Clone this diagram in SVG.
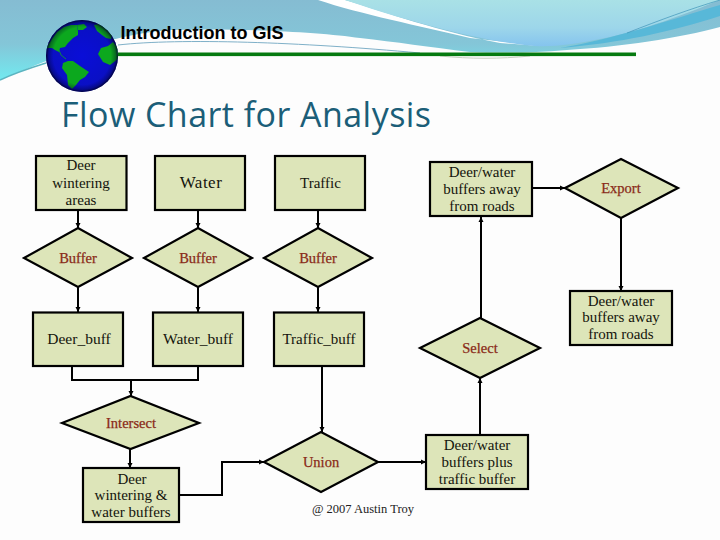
<svg xmlns="http://www.w3.org/2000/svg" width="720" height="540" viewBox="0 0 720 540">
<style>
.n{fill:#dde5b9;stroke:#000;stroke-width:2.2;stroke-linejoin:miter}
.c{fill:none;stroke:#000;stroke-width:2}
.a{marker-end:url(#ah)}
text{font-family:"Liberation Serif","Times New Roman",serif;text-anchor:middle}
.t{font-size:15px;fill:#14140c}
.o{font-size:14.500px;fill:#8a2a18;stroke:#8a2a18;stroke-width:.25}
</style>
<defs>
<marker id="ah" markerUnits="userSpaceOnUse" markerWidth="8" markerHeight="8" refX="6" refY="4" orient="auto"><path d="M1,1.500 L6,4 L1,6.500 Z" fill="#000"/></marker>
<linearGradient id="sky" x1="0" y1="0" x2="0" y2="1"><stop offset="0" stop-color="#85bcd2"/><stop offset=".55" stop-color="#84c6d8"/><stop offset="1" stop-color="#72eaf0"/></linearGradient>
<linearGradient id="lens" x1="0" y1="0" x2="0" y2="1"><stop offset="0" stop-color="#a9e1e6"/><stop offset=".6" stop-color="#9dd6ea"/><stop offset="1" stop-color="#85c4ee"/></linearGradient>
<radialGradient id="ocean" cx=".5" cy=".5" r=".5"><stop offset="0" stop-color="#0a0ed8"/><stop offset="1" stop-color="#0a10c0"/></radialGradient>
<radialGradient id="rim" cx=".5" cy=".5" r=".5"><stop offset=".8" stop-color="#000028" stop-opacity="0"/><stop offset=".93" stop-color="#000028" stop-opacity=".35"/><stop offset="1" stop-color="#000020" stop-opacity=".85"/></radialGradient>
<clipPath id="gc"><circle cx="82" cy="56" r="36"/></clipPath>
</defs>
<rect width="720" height="540" fill="#fdfdfd"/>
<g id="background">
<path d="M0,0 H720 V27 C680,38 620,47 567,50 C530,53 500,53 470,52 C430,47 395,42 360,38 C320,32 240,28 170,30 C120,34 70,50 0,80 Z" fill="url(#sky)"/>
<path d="M318,0 H345 C385,12 440,32 500,43 L540,46 L470,38 C420,26 360,14 318,0 Z" fill="#fff"/>
<path d="M345,0 H720 C690,12 640,32 600,39 C575,44 555,47 535,46 C500,43 440,32 345,0 Z" fill="url(#lens)"/>
<path d="M560,48 C610,40 670,20 720,5 V16 C670,32 620,43 560,48 Z" fill="#58b8d8"/>
<path d="M627,33 C660,20 690,9 720,0" fill="none" stroke="#3e93b8" stroke-width=".7"/>
<path d="M0,80 C15,73 30,68 46,63" fill="none" stroke="#5cb4c0" stroke-width="1.400"/>
<path d="M118,45 C180,38 300,42 420,53" fill="none" stroke="#7fb0c8" stroke-width="1"/>
<path d="M440,56 C470,59 500,59 530,56" fill="none" stroke="#c8d0c0" stroke-width="1"/>
</g>
<rect id="rule" x="118" y="52.500" width="518" height="3.600" fill="#067a10"/>
<g id="globe">
<circle cx="82" cy="56" r="36" fill="url(#ocean)"/>
<g clip-path="url(#gc)" fill="#0ca81e">
<path d="M46,48 L52,39 L57,32 L64,27 L71,25 L77,25 L78,31 L78,35 L73,38 L68,43 L65,47 L60,48 L59,52 L55,50 L52,48 Z"/>
<path d="M77,25 L84,24 L87,27 L83,30 L78,30 Z"/>
<path d="M63,63 L68,61 L73,61 L80,66 L89,72 L85,77 L80,80 L76,85 L72,89 L68,85 L67,75 L62,68 Z"/>
<path d="M98,54 L101,48 L108,46 L113,42 L118,48 L119,58 L114,62 L110,65 L103,62 Z"/>
<path d="M94,25 L99,24 L106,28 L112,35 L111,39 L106,38 L102,35 L97,31 Z"/>
</g>
<g fill="none" stroke="#0ca81e" stroke-width=".8"><path d="M59,50 L61,55 L66,59"/></g>
<circle cx="82" cy="56" r="36" fill="url(#rim)"/>
</g>
<text id="course" x="202" y="39" style="font-family:'Liberation Sans',Arial,sans-serif;font-size:18px;font-weight:bold;fill:#000">Introduction to GIS</text>
<text id="title" x="61" y="127" style="font-family:'Open Sans','Noto Sans',sans-serif;font-size:34px;fill:#1b5e78;text-anchor:start" textLength="370">Flow Chart for Analysis</text>
<g id="connectors">
<path class="c a" d="M78,210 V228"/>
<path class="c a" d="M198,210 V228"/>
<path class="c a" d="M318,210 V228"/>
<path class="c a" d="M78,287 V312"/>
<path class="c a" d="M198,287 V312"/>
<path class="c a" d="M318,287 V312"/>
<path class="c" d="M72,366 V380 H198 V366"/>
<path class="c a" d="M131,380 V396"/>
<path class="c a" d="M130,449 V468"/>
<path class="c a" d="M179,495 H222 V462 H264"/>
<path class="c a" d="M322,366 V432"/>
<path class="c a" d="M378,462 H426"/>
<path class="c a" d="M480,435 V378"/>
<path class="c a" d="M481,318 V217"/>
<path class="c a" d="M532,188 H565"/>
<path class="c a" d="M621,218 V291"/>
</g>
<g id="deer-areas"><rect class="n" x="36" y="156" width="90.500" height="54"/><text class="t" x="81" y="170">Deer</text><text class="t" x="81" y="188">wintering</text><text class="t" x="81" y="205">areas</text></g>
<g id="water"><rect class="n" x="155" y="156" width="90" height="54"/><text class="t" x="201" y="188" style="font-size:17px;letter-spacing:.5px">Water</text></g>
<g id="traffic"><rect class="n" x="275" y="156" width="90" height="54"/><text class="t" x="320.500" y="188">Traffic</text></g>
<g id="buffer1"><polygon class="n" points="24,258 78,228 132,258 78,287"/><text class="o" x="78" y="263">Buffer</text></g>
<g id="buffer2"><polygon class="n" points="144,258 198,228 252,258 198,287"/><text class="o" x="198" y="263">Buffer</text></g>
<g id="buffer3"><polygon class="n" points="264,258 318,228 372,258 318,287"/><text class="o" x="318" y="263">Buffer</text></g>
<g id="deer-buff"><rect class="n" x="33" y="312.500" width="90" height="53.500"/><text class="t" x="79" y="344" style="font-size:15.500px">Deer_buff</text></g>
<g id="water-buff"><rect class="n" x="153" y="312.500" width="90" height="53.500"/><text class="t" x="198" y="344" style="font-size:15.500px">Water_buff</text></g>
<g id="traffic-buff"><rect class="n" x="274" y="312.500" width="90" height="53.500"/><text class="t" x="319" y="344">Traffic_buff</text></g>
<g id="intersect"><polygon class="n" points="62,423 130.500,396 199,423 130.500,449"/><text class="o" x="131" y="428">Intersect</text></g>
<g id="deer-water"><rect class="n" x="83" y="468" width="96" height="54"/><text class="t" x="132" y="484">Deer</text><text class="t" x="131" y="500">wintering &amp;</text><text class="t" x="131" y="517">water buffers</text></g>
<g id="union"><polygon class="n" points="264,462 321,432 378,462 321,492"/><text class="o" x="321" y="467">Union</text></g>
<g id="plus-traffic"><rect class="n" x="426" y="435" width="102" height="54"/><text class="t" x="477" y="450">Deer/water</text><text class="t" x="477" y="467">buffers plus</text><text class="t" x="477" y="484">traffic buffer</text></g>
<g id="select"><polygon class="n" points="420,348 480,318 540,348 480,378"/><text class="o" x="480" y="353">Select</text></g>
<g id="away1"><rect class="n" x="430" y="162" width="102" height="54"/><text class="t" x="482" y="177">Deer/water</text><text class="t" x="482" y="194">buffers away</text><text class="t" x="482" y="211">from roads</text></g>
<g id="export"><polygon class="n" points="565,188 621,159 678,188 621,218"/><text class="o" x="621" y="193">Export</text></g>
<g id="away2"><rect class="n" x="570" y="291" width="102" height="54"/><text class="t" x="621" y="306">Deer/water</text><text class="t" x="621" y="322">buffers away</text><text class="t" x="621" y="339">from roads</text></g>
<text id="credit" x="363" y="513" style="font-size:12.500px;fill:#222">@ 2007 Austin Troy</text>
</svg>
